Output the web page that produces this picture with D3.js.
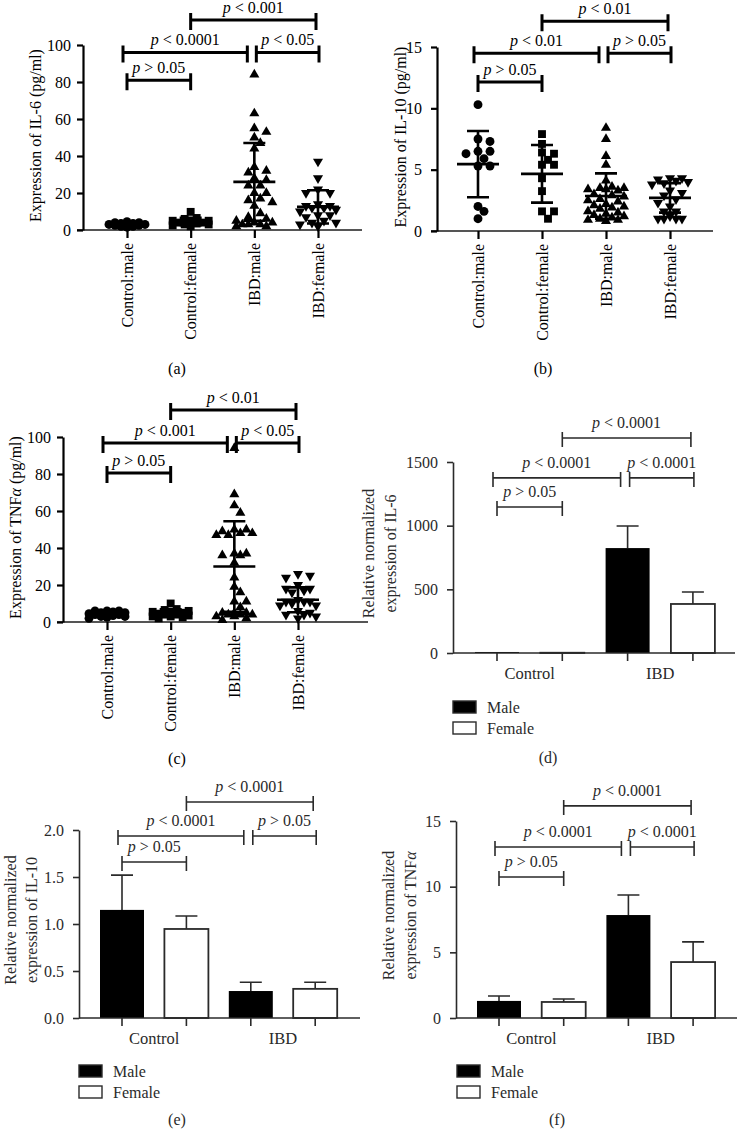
<!DOCTYPE html>
<html><head><meta charset="utf-8">
<script src="https://cdn.jsdelivr.net/npm/d3@7"></script>
<style>
html,body{margin:0;padding:0;background:#fff;}
svg{display:block;font-family:"Liberation Serif","Times New Roman",serif;}
</style></head><body>
<svg id="chart" width="737" height="1132"></svg>
<script>
// ================= DATA =================
const scatterCategories = ["Control:male", "Control:female", "IBD:male", "IBD:female"];
const barGroups = ["Control", "IBD"];
const sexes = ["Male", "Female"];

// (a) serum IL-6 (pg/ml)
const il6ControlMale = [4.5, 4, 4, 3.5, 3.5, 3, 3, 3, 2.5, 2.5, 2, 2, 1.5];
const il6ControlFemale = [9.8, 6.5, 6, 5, 5, 4.5, 4, 4, 3.5, 3, 3, 2.5, 2];
const il6IbdMale = [84, 63, 55, 53, 50, 47, 44, 34, 32, 31, 28, 27, 24, 24, 20, 20, 17, 16, 15, 13, 9, 7, 6, 5, 4, 3, 3, 2, 2, 3, 4];
const il6IbdFemale = [37, 28, 22, 20, 20, 14, 13, 13, 12, 12, 11, 10, 8, 8, 7, 5, 4, 4, 3, 2];
const il6SerumMean = [3, 4.6, 26, 12.5];
const il6SerumSD = [1, 2, 21, 9];
const il6SerumP = ["p > 0.05", "p < 0.0001", "p < 0.05", "p < 0.001"];
const il6SerumTicks = [0, 20, 40, 60, 80, 100];

// (b) serum IL-10 (pg/ml)
const il10ControlMale = [10.3, 7.5, 7.3, 6.5, 6.3, 6.5, 5.9, 5.3, 5.3, 2.0, 1.6, 1.0];
const il10ControlFemale = [7.9, 7.1, 6.3, 6.4, 5.8, 5.4, 5.4, 4.3, 3.25, 1.6, 1.6, 1.0];
const il10IbdMale = [8.4, 7.5, 6.1, 5.4, 4.1, 3.6, 3.5, 3.5, 3.4, 3.4, 3.3, 3.0, 2.9, 2.8, 2.6, 2.5, 2.4, 2.2, 2.1, 2.0, 1.9, 1.8, 1.6, 1.5, 1.4, 1.3, 1.2, 1.1, 1.0, 0.9, 0.9, 0.8];
const il10IbdFemale = [4.3, 4.3, 4.2, 4.1, 4.0, 3.9, 3.8, 3.3, 3.1, 2.9, 2.6, 2.3, 2.0, 1.6, 1.6, 1.2, 1.0, 1.0, 1.0, 1.0];
const il10SerumMean = [5.45, 4.66, 2.85, 2.7];
const il10SerumSD = [2.7, 2.35, 1.85, 1.2];
const il10SerumP = ["p > 0.05", "p < 0.01", "p > 0.05", "p < 0.01"];
const il10SerumTicks = [0, 5, 10, 15];

// (c) serum TNFα (pg/ml)
const tnfControlMale = [6, 6, 6, 5.5, 5, 5, 4.5, 4.5, 4, 4, 3.5, 3, 3, 2.5, 2];
const tnfControlFemale = [10, 7, 6.5, 6, 5.5, 5, 5, 4.5, 4, 4, 3.5, 3, 3, 2.5, 2];
const tnfIbdMale = [94, 69, 63, 59, 50, 50, 49, 48, 48, 47, 47, 37, 36, 36, 37, 32, 24, 19, 16, 11, 11, 8, 5, 5, 4, 4, 3, 3, 5, 4, 2, 1];
const tnfIbdFemale = [26, 25, 24, 20, 18, 18, 17, 16, 12, 11, 11, 11, 10, 9, 9, 6, 5, 4, 4, 3, 2];
const tnfSerumMean = [4.3, 4.8, 30, 12];
const tnfSerumSD = [1.2, 2, 24.5, 6.7];
const tnfSerumP = ["p > 0.05", "p < 0.001", "p < 0.05", "p < 0.01"];
const tnfSerumTicks = [0, 20, 40, 60, 80, 100];

// (d) relative IL-6 mRNA
const il6RelMale = [8, 824];
const il6RelMaleErr = [2, 173];
const il6RelFemale = [2, 385];
const il6RelFemaleErr = [1, 94];
const il6RelP = ["p > 0.05", "p < 0.0001", "p < 0.0001", "p < 0.0001"];
const il6RelTicks = [0, 500, 1000, 1500];

// (e) relative IL-10 mRNA
const il10RelMale = [1.15, 0.287];
const il10RelMaleErr = [0.37, 0.093];
const il10RelFemale = [0.947, 0.31];
const il10RelFemaleErr = [0.138, 0.07];
const il10RelP = ["p > 0.05", "p < 0.0001", "p > 0.05", "p < 0.0001"];
const il10RelTicks = [0, 0.5, 1.0, 1.5, 2.0];

// (f) relative TNFα mRNA
const tnfRelMale = [1.3, 7.84];
const tnfRelMaleErr = [0.37, 1.52];
const tnfRelFemale = [1.22, 4.26];
const tnfRelFemaleErr = [0.23, 1.54];
const tnfRelP = ["p > 0.05", "p < 0.0001", "p < 0.0001", "p < 0.0001"];
const tnfRelTicks = [0, 5, 10, 15];

// ================= DRAWING =================
const svg = d3.select("#chart");
const bracketPairs = [[0, 1], [0, 2], [2, 3], [1, 3]];
const FS = 16;

function pText(g, x, y, label, opts) {
  const t = g.append("text").attr("x", x).attr("y", y)
    .attr("text-anchor", "middle").attr("font-size", opts.fs).attr("fill", opts.color);
  t.append("tspan").attr("font-style", "italic").text(label.slice(0, 1));
  t.append("tspan").text(label.slice(1));
}

function drawBrackets(g, xPos, y, levels, labels, st) {
  bracketPairs.forEach((pr, i) => {
    let x1 = xPos[pr[0]], x2 = xPos[pr[1]];
    if (i === 1) { x1 -= 4; x2 -= 7; }
    if (i === 2) { x1 += 2; x2 += 1; }
    if (i === 3) { x2 -= 2; }
    const yy = y(levels[i]);
    g.append("path")
      .attr("d", `M${x1},${yy - st.up}V${yy + st.down}M${x1},${yy}H${x2}M${x2},${yy - st.up}V${yy + st.down}`)
      .attr("fill", "none").attr("stroke", st.color).attr("stroke-width", st.w);
    pText(g, (x1 + x2) / 2, yy - st.gap, labels[i], { fs: st.fs, color: st.color });
  });
}

function swarm(vals, y, step, minDist, maxSpread) {
  const placed = [];
  const order = vals.map((v, i) => ({ v, i, py: y(v) })).sort((a, b) => b.v - a.v);
  order.forEach(p => {
    let best = 0, bestScore = -1;
    outer:
    for (let k = 0; k <= Math.floor(maxSpread / step); k++) {
      const cands = k === 0 ? [0] : [k * step, -k * step];
      for (const dx of cands) {
        const md = placed.length ? d3.min(placed, q => Math.hypot(q.dx - dx, q.py - p.py)) : Infinity;
        if (md >= minDist) { best = dx; bestScore = Infinity; break outer; }
        if (md > bestScore) { bestScore = md; best = dx; }
      }
    }
    placed.push({ dx: best, py: p.py, v: p.v });
  });
  return placed;
}

function yLabelText(g, x, y, parts, fs, color) {
  const t = g.append("text").attr("transform", `translate(${x},${y}) rotate(-90)`)
    .attr("text-anchor", "middle").attr("dominant-baseline", "central")
    .attr("font-size", fs).attr("fill", color);
  parts.forEach(p => {
    const s = t.append("tspan").text(p.t);
    if (p.i) s.attr("font-style", "italic");
  });
}

function scatterPanel(c) {
  const g = svg.append("g");
  const y = d3.scaleLinear().domain([0, c.ticks[c.ticks.length - 1]]).range(c.yRange);
  const x = d3.scalePoint().domain(scatterCategories).range(c.xRange);
  const xPos = scatterCategories.map(d => x(d));
  const y0 = y(0);
  g.append("line").attr("x1", c.axisX - 6).attr("x2", c.xEnd).attr("y1", y0).attr("y2", y0)
    .attr("stroke", "#555").attr("stroke-width", 2.2);
  const xa = g.append("g").attr("transform", `translate(0,${y0})`)
    .call(d3.axisBottom(x).tickSize(8).tickFormat(""));
  xa.select(".domain").remove();
  xa.selectAll("line").attr("stroke", "#000").attr("stroke-width", 2.2);
  const ya = g.append("g").attr("transform", `translate(${c.axisX},0)`)
    .call(d3.axisLeft(y).tickValues(c.ticks).tickSize(6).tickSizeOuter(0).tickPadding(c.pad).tickFormat(d3.format("d")));
  ya.attr("font-family", null);
  ya.select(".domain").attr("stroke", "#000").attr("stroke-width", 2.2);
  ya.selectAll("line").attr("stroke", "#000").attr("stroke-width", 2.2);
  ya.selectAll("text").attr("font-size", FS).attr("fill", "#000");
  scatterCategories.forEach((cat, i) => {
    g.append("text").attr("transform", `translate(${xPos[i]},${y0 + 13}) rotate(-90)`)
      .attr("text-anchor", "end").attr("dominant-baseline", "central")
      .attr("font-size", FS).text(cat);
  });
  yLabelText(g, c.ylabelX, (c.yRange[0] + c.yRange[1]) / 2 - 2, c.ylabel, FS, "#000");
  const symbols = [d3.symbolCircle, d3.symbolSquare, d3.symbolTriangle, d3.symbolTriangle];
  const sizes = [62, 62, 44, 44];
  c.groups.forEach((vals, gi) => {
    const pts = swarm(vals, y, 6, 7.5, 22);
    const sym = d3.symbol().type(symbols[gi]).size(sizes[gi]);
    pts.forEach(p => {
      g.append("path").attr("d", sym())
        .attr("transform", `translate(${xPos[gi] + p.dx},${p.py})${gi === 3 ? " rotate(180)" : ""}`)
        .attr("fill", "#000");
    });
    const m = c.means[gi], s = c.sds[gi];
    const cx = xPos[gi];
    const yt = y(m + s), yb = y(Math.max(0, m - s)), ym = y(m);
    g.append("path")
      .attr("d", `M${cx},${yt}V${yb}M${cx - 11},${yt}H${cx + 11}M${cx - 11},${yb}H${cx + 11}M${cx - 21},${ym}H${cx + 21}`)
      .attr("stroke", "#000").attr("stroke-width", 2.6).attr("fill", "none");
  });
  drawBrackets(g, xPos, y, c.levels, c.pLabels, { up: 7, down: 10, w: 3, color: "#000", fs: FS, gap: 7 });
  g.append("text").attr("x", c.panelLabel[0]).attr("y", c.panelLabel[1]).attr("text-anchor", "middle")
    .attr("font-size", FS).text(c.panelLabel[2]);
}

function barPanel(c) {
  const g = svg.append("g");
  const col = "#2a2a2a";
  const y = d3.scaleLinear().domain([0, c.ticks[c.ticks.length - 1]]).range(c.yRange);
  const x0 = d3.scaleBand().domain(barGroups).range([c.firstCenter - c.step / 2, c.firstCenter + c.step * 3.5]);
  const x1 = d3.scaleBand().domain(sexes).range([0, x0.bandwidth()]);
  const centers = [];
  barGroups.forEach(gr => sexes.forEach(sx => centers.push(x0(gr) + x1(sx) + x1.bandwidth() / 2)));
  const y0 = y(0);
  const bw = 44;
  const series = [[c.male, c.maleErr], [c.female, c.femaleErr]];
  barGroups.forEach((gr, gi) => {
    sexes.forEach((sx, si) => {
      const cx = x0(gr) + x1(sx) + x1.bandwidth() / 2;
      const v = series[si][0][gi], e = series[si][1][gi];
      if (y(v) - y(v + e) > 1) {
        g.append("path").attr("d", `M${cx},${y(v)}V${y(v + e)}M${cx - 11},${y(v + e)}H${cx + 11}`)
          .attr("stroke", col).attr("stroke-width", 1.6).attr("fill", "none");
      }
      g.append("rect").attr("x", cx - bw / 2).attr("width", bw)
        .attr("y", y(v)).attr("height", Math.max(0, y0 - y(v)))
        .attr("fill", si === 0 ? "#000" : "#fff")
        .attr("stroke", si === 0 ? "none" : col).attr("stroke-width", 1.8);
    });
  });
  g.append("line").attr("x1", c.axisX).attr("x2", c.xEnd).attr("y1", y0).attr("y2", y0)
    .attr("stroke", col).attr("stroke-width", 1.6);
  centers.forEach(cx => {
    g.append("line").attr("x1", cx).attr("x2", cx).attr("y1", y0).attr("y2", y0 + 8)
      .attr("stroke", col).attr("stroke-width", 1.6);
  });
  const ya = g.append("g").attr("transform", `translate(${c.axisX},0)`)
    .call(d3.axisLeft(y).tickValues(c.ticks).tickSize(6).tickSizeOuter(0).tickPadding(9).tickFormat(c.fmt));
  ya.attr("font-family", null);
  ya.select(".domain").attr("stroke", col).attr("stroke-width", 1.6);
  ya.selectAll("line").attr("stroke", col).attr("stroke-width", 1.6);
  ya.selectAll("text").attr("font-size", FS).attr("fill", col);
  barGroups.forEach(gr => {
    g.append("text").attr("x", x0(gr) + x0.bandwidth() / 2).attr("y", y0 + 26)
      .attr("text-anchor", "middle").attr("font-size", 16.5).attr("fill", col).text(gr);
  });
  const mid = (c.yRange[0] + c.yRange[1]) / 2 - 4;
  yLabelText(g, c.ylabelX[0], mid, [{ t: "Relative normalized" }], FS, col);
  yLabelText(g, c.ylabelX[1], mid, c.ylabel2, FS, col);
  drawBrackets(g, centers, y, c.levels, c.pLabels, { up: 6, down: 9, w: 1.6, color: col, fs: FS, gap: 10 });
  sexes.forEach((sx, i) => {
    const ly = c.legend[1] + i * 21;
    g.append("rect").attr("x", c.legend[0]).attr("y", ly).attr("width", 23).attr("height", 12)
      .attr("fill", i === 0 ? "#000" : "#fff").attr("stroke", col).attr("stroke-width", 1.4);
    g.append("text").attr("x", c.legend[0] + 34).attr("y", ly + 11.5).attr("font-size", FS)
      .attr("fill", col).text(sx);
  });
  g.append("text").attr("x", c.panelLabel[0]).attr("y", c.panelLabel[1]).attr("text-anchor", "middle")
    .attr("font-size", FS).attr("fill", col).text(c.panelLabel[2]);
}

scatterPanel({
  groups: [il6ControlMale, il6ControlFemale, il6IbdMale, il6IbdFemale],
  means: il6SerumMean, sds: il6SerumSD, pLabels: il6SerumP, ticks: il6SerumTicks,
  yRange: [230, 45], xRange: [127, 318], axisX: 83, xEnd: 362, pad: 6,
  levels: [81, 96, 96, 113.5], ylabelX: 35,
  ylabel: [{ t: "Expression of IL-6 (pg/ml)" }], panelLabel: [177, 374, "(a)"]
});
scatterPanel({
  groups: [il10ControlMale, il10ControlFemale, il10IbdMale, il10IbdFemale],
  means: il10SerumMean, sds: il10SerumSD, pLabels: il10SerumP, ticks: il10SerumTicks,
  yRange: [231, 47], xRange: [478, 670], axisX: 437, xEnd: 713, pad: 9,
  levels: [12.14, 14.5, 14.5, 17.1], ylabelX: 400,
  ylabel: [{ t: "Expression of IL-10 (pg/ml)" }], panelLabel: [543, 374, "(b)"]
});
scatterPanel({
  groups: [tnfControlMale, tnfControlFemale, tnfIbdMale, tnfIbdFemale],
  means: tnfSerumMean, sds: tnfSerumSD, pLabels: tnfSerumP, ticks: tnfSerumTicks,
  yRange: [622, 437], xRange: [107, 298], axisX: 63, xEnd: 368, pad: 6,
  levels: [80.5, 96.8, 96.8, 114.6], ylabelX: 15,
  ylabel: [{ t: "Expression of TNF" }, { t: "α", i: true }, { t: " (pg/ml)" }], panelLabel: [177, 764, "(c)"]
});
barPanel({
  male: il6RelMale, maleErr: il6RelMaleErr, female: il6RelFemale, femaleErr: il6RelFemaleErr,
  pLabels: il6RelP, ticks: il6RelTicks, fmt: d3.format("d"),
  yRange: [653, 462], firstCenter: 497, step: 65.3, axisX: 453, xEnd: 735,
  levels: [1147, 1375, 1375, 1689], ylabelX: [368, 390],
  ylabel2: [{ t: "expression of IL-6" }], legend: [453, 701], panelLabel: [548, 763, "(d)"]
});
barPanel({
  male: il10RelMale, maleErr: il10RelMaleErr, female: il10RelFemale, femaleErr: il10RelFemaleErr,
  pLabels: il10RelP, ticks: il10RelTicks, fmt: d3.format(".1f"),
  yRange: [1018, 830], firstCenter: 122, step: 64.4, axisX: 79, xEnd: 360,
  levels: [1.66, 1.936, 1.936, 2.298], ylabelX: [10, 31],
  ylabel2: [{ t: "expression of IL-10" }], legend: [79, 1065], panelLabel: [177, 1125, "(e)"]
});
barPanel({
  male: tnfRelMale, maleErr: tnfRelMaleErr, female: tnfRelFemale, femaleErr: tnfRelFemaleErr,
  pLabels: tnfRelP, ticks: tnfRelTicks, fmt: d3.format("d"),
  yRange: [1018, 821], firstCenter: 499, step: 64.7, axisX: 456, xEnd: 737,
  levels: [10.74, 13.02, 13.02, 16.15], ylabelX: [388, 410],
  ylabel2: [{ t: "expression of TNF" }, { t: "α", i: true }], legend: [457, 1065], panelLabel: [557, 1125, "(f)"]
});
</script>
</body></html>
